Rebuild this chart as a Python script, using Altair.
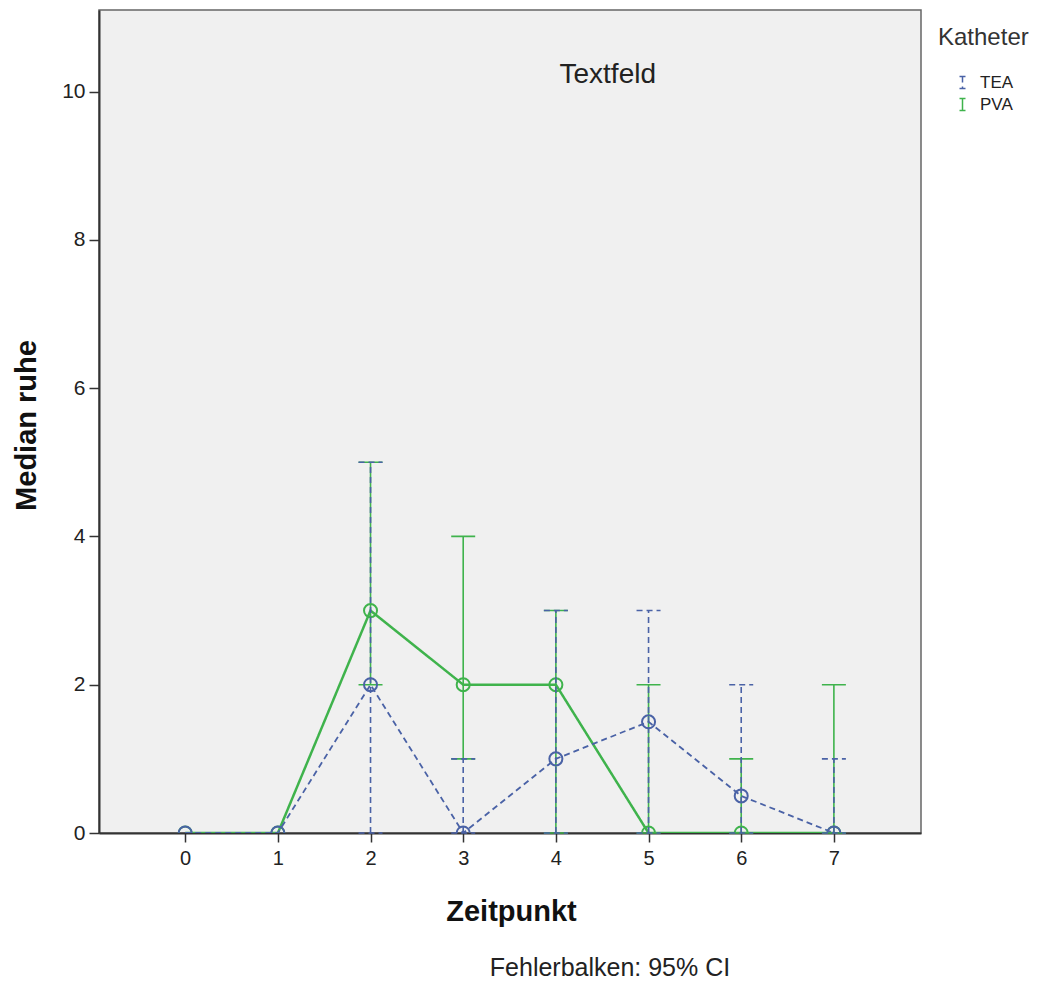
import altair as alt
import pandas as pd

zeitpunkt = [0, 1, 2, 3, 4, 5, 6, 7]
serien = ["TEA", "PVA"]
tea_median = [0, 0, 2, 0, 1, 1.5, 0.5, 0]
tea_lo = [None, None, 0, 0, 0, 0, 0, 0]
tea_hi = [None, None, 5, 1, 3, 3, 2, 1]
pva_median = [0, 0, 3, 2, 2, 0, 0, 0]
pva_lo = [None, None, 2, 1, 0, 0, 0, 0]
pva_hi = [None, None, 5, 4, 3, 2, 1, 2]
farben = ["#4a62a6", "#3fb34c"]
striche = [[6, 4], [1, 0]]

rows = []
for name, med, lo, hi in [("TEA", tea_median, tea_lo, tea_hi), ("PVA", pva_median, pva_lo, pva_hi)]:
    for i, z in enumerate(zeitpunkt):
        rows.append({"Zeitpunkt": z, "Katheter": name, "median": med[i], "lo": lo[i], "hi": hi[i]})
df = pd.DataFrame(rows)

FONT = "Liberation Sans"
xscale = alt.Scale(domain=[-0.93, 7.94], nice=False, zero=False)
yscale = alt.Scale(domain=[0, 11.1], nice=False)
color = alt.Color("Katheter:N", scale=alt.Scale(domain=serien, range=farben),
                  legend=alt.Legend(title="Katheter", orient="none", legendX=839, legendY=16,
                                    symbolType="M-0.5,-1H0.5M0,-1V1M-0.5,1H0.5",
                                    symbolSize=144, symbolStrokeWidth=1.5,
                                    symbolFillColor="transparent",
                                    titleFont=FONT, titleFontSize=24, titleFontWeight="normal",
                                    titleColor="#333333", titlePadding=24,
                                    labelFont=FONT, labelFontSize=17, labelColor="#222222",
                                    rowPadding=3, padding=0, symbolOffset=16, labelOffset=9))
dash = alt.StrokeDash("Katheter:N", scale=alt.Scale(domain=serien, range=striche),
                      legend=alt.Legend(title="Katheter"))

xenc = alt.X("Zeitpunkt:Q", scale=xscale,
             axis=alt.Axis(title="Zeitpunkt", values=zeitpunkt, format="d", grid=False,
                           tickSize=9, labelPadding=6, labelFontSize=20, labelFont=FONT,
                           labelColor="#222222", tickColor="#333333", domainColor="#333333",
                           domainWidth=2, tickWidth=1.5,
                           titleFont=FONT, titleFontSize=29, titleFontWeight="bold",
                           titleColor="#111111", titleX=412, titleY=78,
                           titleBaseline="middle", titleAlign="center"))
yenc = alt.Y("median:Q", scale=yscale,
             axis=alt.Axis(title="Median ruhe", values=[0, 2, 4, 6, 8, 10], format="d", grid=False,
                           tickSize=10, labelPadding=4, labelFontSize=21, labelFont=FONT,
                           labelColor="#222222", tickColor="#333333", domainColor="#333333",
                           domainWidth=2, tickWidth=1.5,
                           titleFont=FONT, titleFontSize=29, titleFontWeight="bold",
                           titleColor="#111111", titleX=-73, titleY=415,
                           titleBaseline="middle", titleAlign="center", titleAngle=270))

layers = []
for s in ["PVA", "TEA"]:
    base = alt.Chart(df).transform_filter(alt.datum.Katheter == s)
    ci = base.transform_filter("isValid(datum.lo)")
    sw = 2.5 if s == "PVA" else 1.8
    layers.append(base.mark_line(strokeWidth=sw, clip=True).encode(x=xenc, y=yenc, color=color, strokeDash=dash))
    layers.append(ci.mark_rule(strokeWidth=1.6).encode(
        x="Zeitpunkt:Q", y="lo:Q", y2="hi:Q", color=color, strokeDash=dash))
    layers.append(ci.mark_rule(strokeWidth=1.6, xOffset=-12, x2Offset=12).encode(
        x="Zeitpunkt:Q", x2="Zeitpunkt:Q", y="hi:Q", color=color, strokeDash=dash))
    layers.append(ci.mark_rule(strokeWidth=1.6, xOffset=-12, x2Offset=12).encode(
        x="Zeitpunkt:Q", x2="Zeitpunkt:Q", y="lo:Q", color=color, strokeDash=dash))
    layers.append(base.mark_point(filled=False, size=170, strokeWidth=2, opacity=1, clip=True).encode(
        x="Zeitpunkt:Q", y="median:Q", color=color))

notiz = pd.DataFrame({"x": [4.56], "y": [10.22], "t": ["Textfeld"]})
layers.append(alt.Chart(notiz).mark_text(font=FONT, fontSize=28, color="#222222",
                                         baseline="middle", align="center").encode(
    x="x:Q", y="y:Q", text="t:N"))

chart = alt.layer(*layers).properties(
    width=822, height=823,
    autosize=alt.AutoSizeParams(type="none"),
    padding={"left": 99, "top": 10, "right": 117, "bottom": 152},
    title=alt.TitleParams("Fehlerbalken: 95% CI", orient="bottom", anchor="middle", dx=100,
                          offset=30, font=FONT, fontSize=25, fontWeight="normal", color="#222222"),
).configure_view(fill="#f0f0f0", stroke="#666666", strokeWidth=1.5)

chart.save("out.html", embed_options={"renderer": "svg", "actions": False})
